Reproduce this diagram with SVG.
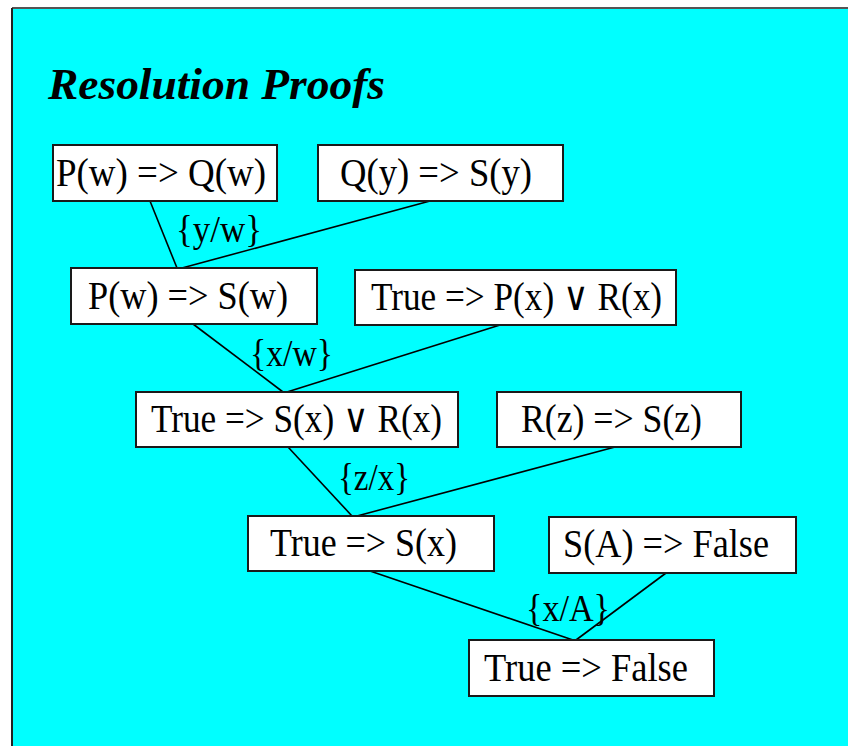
<svg xmlns="http://www.w3.org/2000/svg" width="848" height="746" viewBox="0 0 848 746">
<style>
.bg{fill:#00ffff}
.box rect{fill:#ffffff;stroke:#1a1a1a;stroke-width:2}
.box text,.lbl{font-family:"Liberation Serif","DejaVu Serif","Times New Roman",serif;font-size:40px;fill:#000}
.lbl{font-size:38px}
.edges line{stroke:#000;stroke-width:1.6}
.title{font-family:"Liberation Serif","Times New Roman",serif;font-size:45px;font-weight:bold;font-style:italic;fill:#000}
</style>
<rect x="0" y="0" width="848" height="746" fill="#ffffff"/>
<rect class="bg" x="12" y="8" width="836" height="738"/>
<line x1="12" y1="8" x2="848" y2="8" stroke="#555" stroke-width="2"/>
<line x1="12" y1="8" x2="12" y2="746" stroke="#222" stroke-width="2"/>
<text class="title" x="48" y="99" textLength="337" lengthAdjust="spacingAndGlyphs">Resolution Proofs</text>
<g class="edges" id="connectors">
<line x1="150" y1="201" x2="177" y2="268"/>
<line x1="430" y1="201" x2="182" y2="268"/>
<line x1="193" y1="324" x2="283" y2="392"/>
<line x1="500" y1="325" x2="287" y2="392"/>
<line x1="288" y1="447" x2="352" y2="516"/>
<line x1="615" y1="447" x2="357" y2="516"/>
<line x1="370" y1="571" x2="573" y2="640"/>
<line x1="666" y1="573" x2="576" y2="640"/>
</g>
<g id="labels">
<text class="lbl" x="176" y="242" textLength="86" lengthAdjust="spacingAndGlyphs">{y/w}</text>
<text class="lbl" x="250" y="366" textLength="83" lengthAdjust="spacingAndGlyphs">{x/w}</text>
<text class="lbl" x="338" y="490" textLength="72" lengthAdjust="spacingAndGlyphs">{z/x}</text>
<text class="lbl" x="526" y="621" textLength="84" lengthAdjust="spacingAndGlyphs">{x/A}</text>
</g>
<g class="box" id="n1"><rect x="53" y="145" width="224" height="56"/><text x="56" y="186" textLength="210" lengthAdjust="spacingAndGlyphs">P(w) =&gt; Q(w)</text></g>
<g class="box" id="n2"><rect x="318" y="145" width="245" height="56"/><text x="340" y="186" textLength="192" lengthAdjust="spacingAndGlyphs">Q(y) =&gt; S(y)</text></g>
<g class="box" id="n3"><rect x="71" y="268" width="246" height="56"/><text x="88" y="309" textLength="200" lengthAdjust="spacingAndGlyphs">P(w) =&gt; S(w)</text></g>
<g class="box" id="n4"><rect x="355" y="270" width="321" height="55"/><text x="371" y="310" textLength="291" lengthAdjust="spacingAndGlyphs">True =&gt; P(x) ∨ R(x)</text></g>
<g class="box" id="n5"><rect x="136" y="392" width="322" height="55"/><text x="151" y="432" textLength="291" lengthAdjust="spacingAndGlyphs">True =&gt; S(x) ∨ R(x)</text></g>
<g class="box" id="n6"><rect x="497" y="392" width="244" height="55"/><text x="521" y="432" textLength="181" lengthAdjust="spacingAndGlyphs">R(z) =&gt; S(z)</text></g>
<g class="box" id="n7"><rect x="248" y="516" width="246" height="55"/><text x="270" y="556" textLength="187" lengthAdjust="spacingAndGlyphs">True =&gt; S(x)</text></g>
<g class="box" id="n8"><rect x="549" y="517" width="247" height="56"/><text x="563" y="557" textLength="206" lengthAdjust="spacingAndGlyphs">S(A) =&gt; False</text></g>
<g class="box" id="n9"><rect x="469" y="640" width="245" height="56"/><text x="484" y="681" textLength="204" lengthAdjust="spacingAndGlyphs">True =&gt; False</text></g>
</svg>
